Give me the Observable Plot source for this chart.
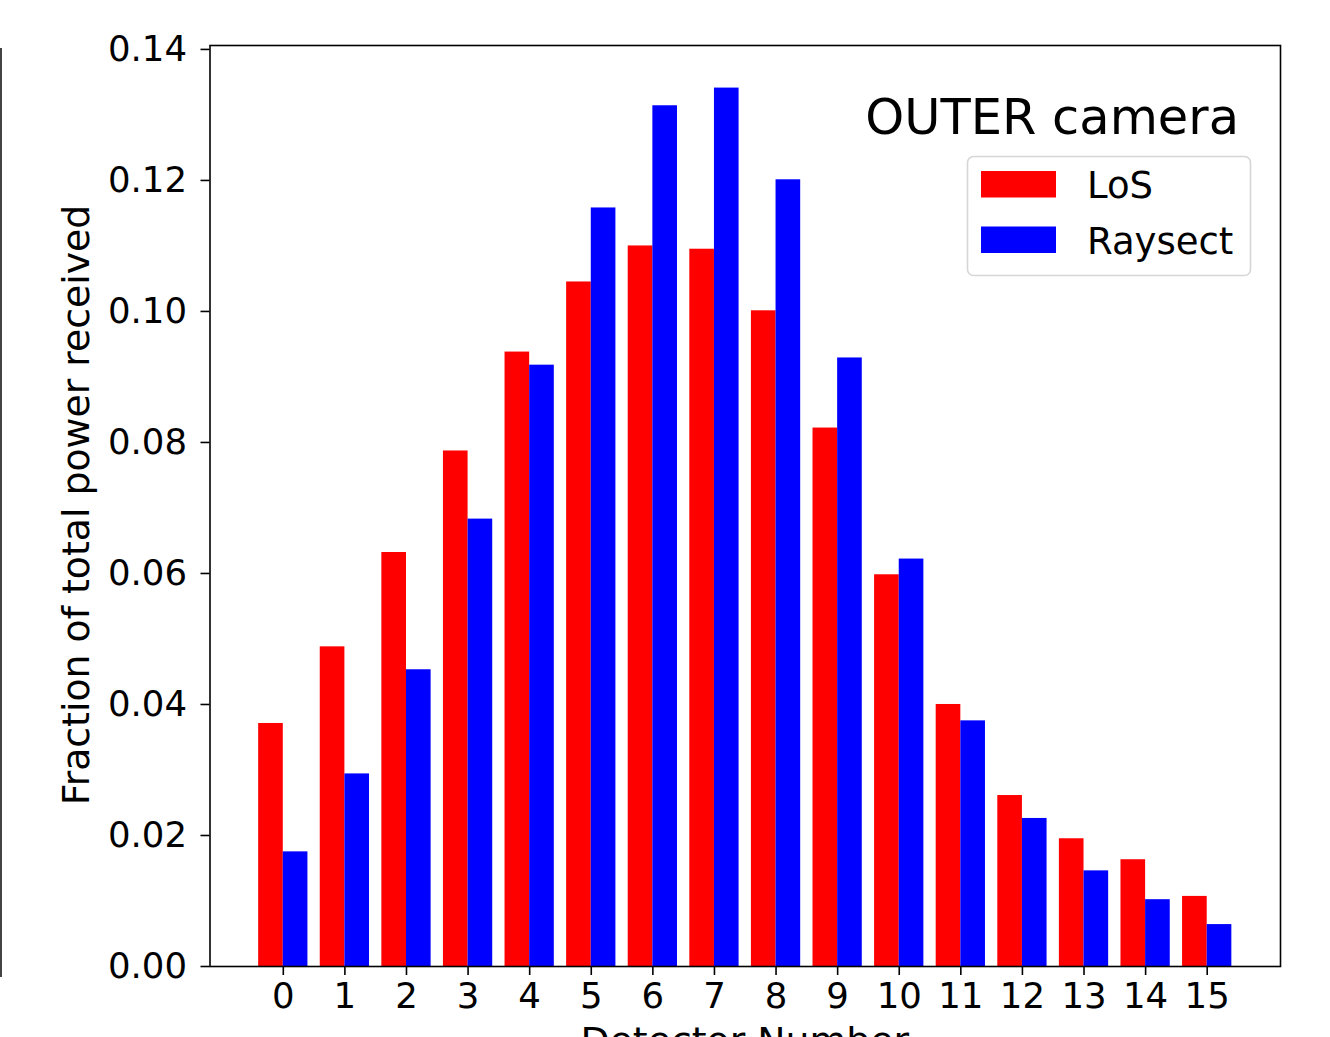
<!DOCTYPE html>
<html>
<head>
<meta charset="utf-8">
<script src="https://cdn.jsdelivr.net/npm/d3@7"></script>
<script src="https://cdn.jsdelivr.net/npm/@observablehq/plot@0.6"></script>
<style>
  html, body { margin: 0; padding: 0; overflow: hidden; background: white; }
  #chart { position: relative; width: 1330px; height: 1037px; }
</style>
</head>
<body>
<div id="chart"></div>
<script>
// ---- data ----
const detectors = [0, 1, 2, 3, 4, 5, 6, 7, 8, 9, 10, 11, 12, 13, 14, 15];
const losValues = [0.0371, 0.0488, 0.0632, 0.0787, 0.0938, 0.1045, 0.1100, 0.1095,
                   0.1001, 0.0822, 0.0598, 0.0400, 0.0261, 0.0195, 0.0163, 0.0107];
const raysectValues = [0.0175, 0.0294, 0.0453, 0.0683, 0.0918, 0.1158, 0.1314, 0.1341,
                       0.1201, 0.0929, 0.0622, 0.0375, 0.0226, 0.0146, 0.0102, 0.0064];
const seriesNames = ["LoS", "Raysect"];
const seriesColors = ["#ff0000", "#0000ff"];
const yTicks = [0, 0.02, 0.04, 0.06, 0.08, 0.10, 0.12, 0.14];
const titleText = "OUTER camera";
const xLabel = "Detector Number";
const yLabel = "Fraction of total power received";

// ---- table for the library ----
const barWidth = 0.4;
const table = [];
detectors.forEach((d, i) => {
  table.push({detector: d, series: seriesNames[0], value: losValues[i], x1: d - barWidth, x2: d});
  table.push({detector: d, series: seriesNames[1], value: raysectValues[i], x1: d, x2: d + barWidth});
});

const W = 1330, H = 1037;
const mL = 209.5, mR = 50, mT = 45, mB = 71;
const font = "DejaVu Sans, Verdana, sans-serif";

const chart = Plot.plot({
  width: W,
  height: H,
  marginLeft: mL,
  marginRight: mR,
  marginTop: mT,
  marginBottom: mB,
  style: {fontFamily: font, fontSize: "35.5px", color: "black", background: "white"},
  x: {type: "linear", domain: [-1.19, 16.19]},
  y: {domain: [0, 0.1406]},
  color: {domain: seriesNames, range: seriesColors},
  marks: [
    Plot.rectY(table, {x1: "x1", x2: "x2", y: "value", fill: "series"}),
    Plot.frame({stroke: "black", strokeWidth: 1.6}),
    Plot.axisX({ticks: detectors, tickFormat: d => String(d), tickSize: 9, tickPadding: 7,
                strokeWidth: 1.6, label: null, fontSize: 35.5}),
    Plot.axisY({ticks: yTicks, tickFormat: d3.format(".2f"), tickSize: 9, tickPadding: 14,
                strokeWidth: 1.6, label: null, fontSize: 35.5})
  ]
});

const svg = d3.select(chart);

// left neighbour-panel edge
svg.append("line")
  .attr("x1", 1).attr("x2", 1).attr("y1", 48).attr("y2", 977)
  .attr("stroke", "#444").attr("stroke-width", 2);

// axis labels
svg.append("text")
  .attr("transform", `translate(89,505) rotate(-90)`)
  .attr("text-anchor", "middle")
  .attr("font-family", font).attr("font-size", 37.8).attr("fill", "black")
  .text(yLabel);
svg.append("text")
  .attr("x", (mL + (W - mR)) / 2).attr("y", 1054)
  .attr("text-anchor", "middle")
  .attr("font-family", font).attr("font-size", 37.8).attr("fill", "black")
  .text(xLabel);

// title inside plot
svg.append("text")
  .attr("x", 1239).attr("y", 134)
  .attr("text-anchor", "end")
  .attr("font-family", font).attr("font-size", 49.5).attr("fill", "black")
  .text(titleText);

// legend
const lg = svg.append("g");
lg.append("rect")
  .attr("x", 967.5).attr("y", 156.5).attr("width", 283).attr("height", 119)
  .attr("rx", 6).attr("fill", "white").attr("fill-opacity", 0.8)
  .attr("stroke", "#d6d6d6").attr("stroke-width", 1.6);
seriesNames.forEach((name, i) => {
  const y0 = 171 + i * 55.5;
  lg.append("rect")
    .attr("x", 981).attr("y", y0).attr("width", 75).attr("height", 26.5)
    .attr("fill", seriesColors[i]);
  lg.append("text")
    .attr("x", 1087).attr("y", y0 + 27)
    .attr("text-anchor", "start")
    .attr("font-family", font).attr("font-size", 37).attr("fill", "black")
    .text(name);
});

document.getElementById("chart").appendChild(chart);
</script>
</body>
</html>
